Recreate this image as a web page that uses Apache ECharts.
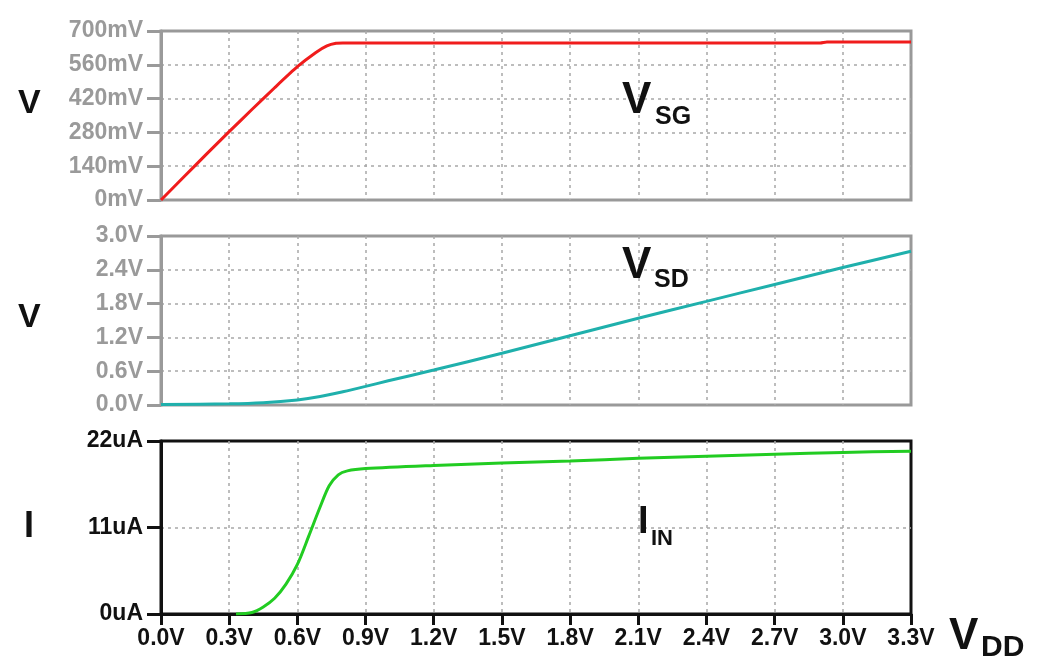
<!DOCTYPE html>
<html>
<head>
<meta charset="utf-8">
<script src="https://cdn.jsdelivr.net/npm/echarts@6/dist/echarts.min.js"></script>
<style>
  html, body { margin: 0; padding: 0; background: #fff; }
  #main { width: 1041px; height: 661px; }
</style>
</head>
<body>
<div id="main"></div>
<script>
// VDD sweep points (V) and values
var vsgX = [0, 0.1, 0.2, 0.3, 0.4, 0.5, 0.6, 0.68, 0.73, 0.77, 0.8, 1.5, 2.2, 2.9, 2.93, 3.3];
var vsgY = [0, 95, 190, 283, 375, 465, 552, 610, 638, 649, 650, 650, 650, 650, 654, 654]; // mV

var vsdX = [0, 0.3, 0.45, 0.6, 0.7, 0.8, 0.9, 1.0, 1.2, 1.5, 1.8, 2.1, 2.4, 2.7, 3.0, 3.3];
var vsdY = [0.01, 0.02, 0.04, 0.09, 0.15, 0.235, 0.33, 0.43, 0.62, 0.92, 1.23, 1.54, 1.84, 2.14, 2.44, 2.73]; // V

var iinX = [0.33, 0.4, 0.45, 0.5, 0.55, 0.6, 0.65, 0.7, 0.74, 0.78, 0.82, 0.9, 1.2, 1.5, 1.8, 2.1, 2.4, 2.7, 3.0, 3.3];
var iinY = [0, 0.2, 0.9, 2.0, 3.8, 6.3, 9.9, 13.6, 16.3, 17.7, 18.2, 18.5, 18.9, 19.2, 19.45, 19.8, 20.05, 20.3, 20.55, 20.7]; // uA

function pairs(xs, ys) {
    var out = [];
    for (var i = 0; i < xs.length; i++) out.push([xs[i], ys[i]]);
    return out;
}

var chart = echarts.init(document.getElementById('main'));
var font = 'Liberation Sans, Arial, sans-serif';
var gray = '#9a9a9a';
var split = { show: true, showMinLine: false, showMaxLine: false, lineStyle: { color: '#a8a8a8', width: 1.5, type: [3, 4] } };

function xAx(idx, showLabels) {
    return {
        type: 'value', gridIndex: idx, min: 0, max: 3.3, interval: 0.3,
        axisLine: { show: showLabels, lineStyle: { color: '#111', width: 3 } },
        axisTick: { show: showLabels, length: 11, lineStyle: { color: '#111', width: 3 } },
        axisLabel: {
            show: showLabels, margin: 13, color: '#111', fontSize: 23, fontWeight: 'bold', fontFamily: font,
            formatter: function (v) { return v.toFixed(1) + 'V'; }
        },
        splitLine: split
    };
}

function yAx(idx, max, interval, color, fmt) {
    return {
        type: 'value', gridIndex: idx, min: 0, max: max, interval: interval,
        axisLine: { show: true, lineStyle: { color: color, width: 3 } },
        axisTick: { show: true, length: 14, lineStyle: { color: color, width: 3 } },
        axisLabel: { margin: 18, color: color, fontSize: 23, fontWeight: 'bold', fontFamily: font, formatter: fmt },
        splitLine: split
    };
}

function txt(x, y, s, size) {
    return {
        type: 'text', x: x, y: y, z: 10,
        style: { text: s, fill: '#111', font: 'bold ' + size + 'px ' + font, align: 'left', verticalAlign: 'middle' }
    };
}

var option = {
    animation: false,
    backgroundColor: '#fff',
    grid: [
        { left: 161, right: 130, top: 31, height: 169, show: true, borderColor: '#999', borderWidth: 3 },
        { left: 161, right: 130, top: 236, height: 169, show: true, borderColor: '#999', borderWidth: 3 },
        { left: 161, right: 130, top: 441, height: 173, show: true, borderColor: '#111', borderWidth: 3 }
    ],
    xAxis: [xAx(0, false), xAx(1, false), xAx(2, true)],
    yAxis: [
        yAx(0, 700, 140, gray, function (v) { return v + 'mV'; }),
        yAx(1, 3, 0.6, gray, function (v) { return v.toFixed(1) + 'V'; }),
        yAx(2, 22, 11, '#111', function (v) { return v + 'uA'; })
    ],
    series: [
        { name: 'VSG', type: 'line', xAxisIndex: 0, yAxisIndex: 0, showSymbol: false, smooth: 0.2,
          lineStyle: { color: '#f01c1c', width: 3 }, data: pairs(vsgX, vsgY) },
        { name: 'VSD', type: 'line', xAxisIndex: 1, yAxisIndex: 1, showSymbol: false, smooth: 0.3,
          lineStyle: { color: '#1fb0ac', width: 3 }, data: pairs(vsdX, vsdY) },
        { name: 'IIN', type: 'line', xAxisIndex: 2, yAxisIndex: 2, showSymbol: false, smooth: 0.3,
          lineStyle: { color: '#22cc22', width: 3 }, data: pairs(iinX, iinY) }
    ],
    graphic: [
        txt(18, 104, 'V', 34),
        txt(18, 318, 'V', 34),
        txt(24, 527, 'I', 36),
        txt(622, 101, 'V', 44), txt(655, 117, 'SG', 25),
        txt(622, 266, 'V', 44), txt(654, 280, 'SD', 25),
        txt(638, 523, 'I', 38), txt(651, 539, 'IN', 22),
        txt(949, 637, 'V', 44), txt(981, 648, 'DD', 30)
    ]
};
chart.setOption(option);
</script>
</body>
</html>
